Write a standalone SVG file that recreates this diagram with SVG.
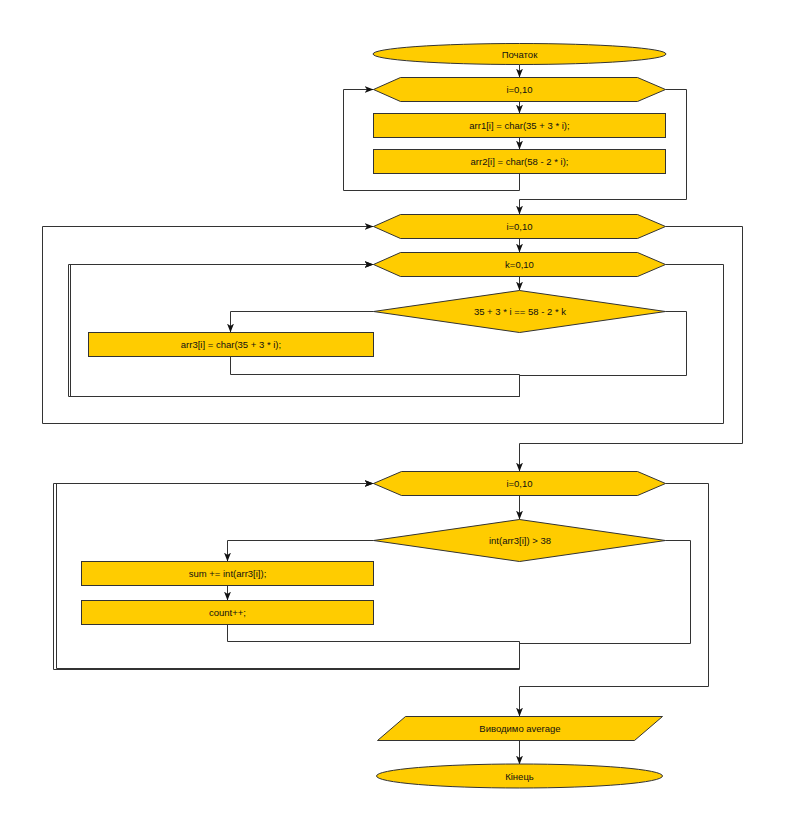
<svg xmlns="http://www.w3.org/2000/svg" width="801" height="814" viewBox="0 0 801 814">
<style>
.n{fill:#FFCC00;stroke:#333333;stroke-width:1}
.e{fill:none;stroke:#333333;stroke-width:1}
.t{font-family:"Liberation Sans",Arial,sans-serif;font-size:9.5px;fill:#111111;text-anchor:middle}
</style>
<defs>
<marker id="arr" markerUnits="userSpaceOnUse" markerWidth="10" markerHeight="8" refX="9" refY="3.5" orient="auto">
<path d="M0,0 L9,3.5 L0,7 L2.5,3.5 Z" fill="#111111" stroke="none"/>
</marker>
</defs>
<rect width="801" height="814" fill="#ffffff"/>
<g id="connectors">
<path class="e" marker-end="url(#arr)" d="M519.5,64.5 V77.5"/>
<path class="e" marker-end="url(#arr)" d="M519.5,101.5 V113.5"/>
<path class="e" marker-end="url(#arr)" d="M519.5,137.5 V149.5"/>
<path class="e" marker-end="url(#arr)" d="M519.5,173.5 V190.5 H343.5 V89.5 H373.5"/>
<path class="e" marker-end="url(#arr)" d="M665.5,89.5 H686.5 V199.5 H519.5 V214.5"/>
<path class="e" marker-end="url(#arr)" d="M519.5,238.5 V252.5"/>
<path class="e" marker-end="url(#arr)" d="M519.5,276.5 V290.5"/>
<path class="e" marker-end="url(#arr)" d="M373.5,311.5 H230.5 V332.5"/>
<path class="e" marker-end="url(#arr)" d="M665.5,311.5 H686.5 V375.5 H519.5 V396.5 H68.5 V264.5 H373.5"/>
<path class="e" marker-end="url(#arr)" d="M230.5,356.5 V374.5 H519.5 V396.5 H70.5 V264.5 H373.5"/>
<path class="e" marker-end="url(#arr)" d="M665.5,264.5 H723.5 V423.5 H42.5 V226.5 H373.5"/>
<path class="e" marker-end="url(#arr)" d="M665.5,226.5 H742.5 V443.5 H519.5 V471.5"/>
<path class="e" marker-end="url(#arr)" d="M519.5,495.5 V519.5"/>
<path class="e" marker-end="url(#arr)" d="M373.5,540.5 H227.5 V561.5"/>
<path class="e" marker-end="url(#arr)" d="M227.5,585.5 V600.5"/>
<path class="e" marker-end="url(#arr)" d="M227.5,624.5 V641.5 H519.5 V668.5 H56.5 V483.5 H373.5"/>
<path class="e" marker-end="url(#arr)" d="M665.5,540.5 H690.5 V643.5 H519.5 V669.5 H53.5 V483.5 H373.5"/>
<path class="e" marker-end="url(#arr)" d="M665.5,483.5 H708.5 V686.5 H519.5 V716.5"/>
<path class="e" marker-end="url(#arr)" d="M519.5,740.5 V764.5"/>
</g>
<g id="start">
<ellipse class="n" cx="519.5" cy="54" rx="146.5" ry="10.5"/>
<text class="t" x="519.5" y="57.5">Початок</text>
</g>
<g id="loop1">
<polygon class="n" points="373.5,89.5 400.5,77.5 637.5,77.5 665.5,89.5 637.5,101.5 400.5,101.5"/>
<text class="t" x="519.5" y="93">i=0,10</text>
</g>
<g id="arr1">
<rect class="n" x="373.5" y="113.5" width="292" height="24"/>
<text class="t" x="519.5" y="129">arr1[i] = char(35 + 3 * i);</text>
</g>
<g id="arr2">
<rect class="n" x="373.5" y="149.5" width="292" height="24"/>
<text class="t" x="519.5" y="165">arr2[i] = char(58 - 2 * i);</text>
</g>
<g id="loop2">
<polygon class="n" points="373.5,226.5 400.5,214.5 637.5,214.5 665.5,226.5 637.5,238.5 400.5,238.5"/>
<text class="t" x="519.5" y="230">i=0,10</text>
</g>
<g id="loopk">
<polygon class="n" points="373.5,264.5 400.5,252.5 637.5,252.5 665.5,264.5 637.5,276.5 400.5,276.5"/>
<text class="t" x="519.5" y="268">k=0,10</text>
</g>
<g id="cond1">
<polygon class="n" points="519.5,290.5 665.5,311.5 519.5,332.5 373.5,311.5"/>
<text class="t" x="520" y="315">35 + 3 * i == 58 - 2 * k</text>
</g>
<g id="arr3">
<rect class="n" x="88.5" y="332.5" width="285" height="24"/>
<text class="t" x="231" y="348">arr3[i] = char(35 + 3 * i);</text>
</g>
<g id="loop3">
<polygon class="n" points="373.5,483.5 401.5,471.5 637.5,471.5 665.5,483.5 637.5,495.5 401.5,495.5"/>
<text class="t" x="519.5" y="487">i=0,10</text>
</g>
<g id="cond2">
<polygon class="n" points="519.5,519.5 665.5,540.5 519.5,561.5 373.5,540.5"/>
<text class="t" x="520" y="544">int(arr3[i]) &gt; 38</text>
</g>
<g id="sum">
<rect class="n" x="81.5" y="561.5" width="292" height="24"/>
<text class="t" x="227.5" y="577">sum += int(arr3[i]);</text>
</g>
<g id="count">
<rect class="n" x="81.5" y="600.5" width="292" height="24"/>
<text class="t" x="227.5" y="616">count++;</text>
</g>
<g id="output">
<polygon class="n" points="405.5,716.5 662.5,716.5 634.5,740.5 377.5,740.5"/>
<text class="t" x="520" y="732">Виводимо average</text>
</g>
<g id="end">
<ellipse class="n" cx="519.5" cy="776" rx="143" ry="12"/>
<text class="t" x="519.5" y="779.5">Кінець</text>
</g>
</svg>
